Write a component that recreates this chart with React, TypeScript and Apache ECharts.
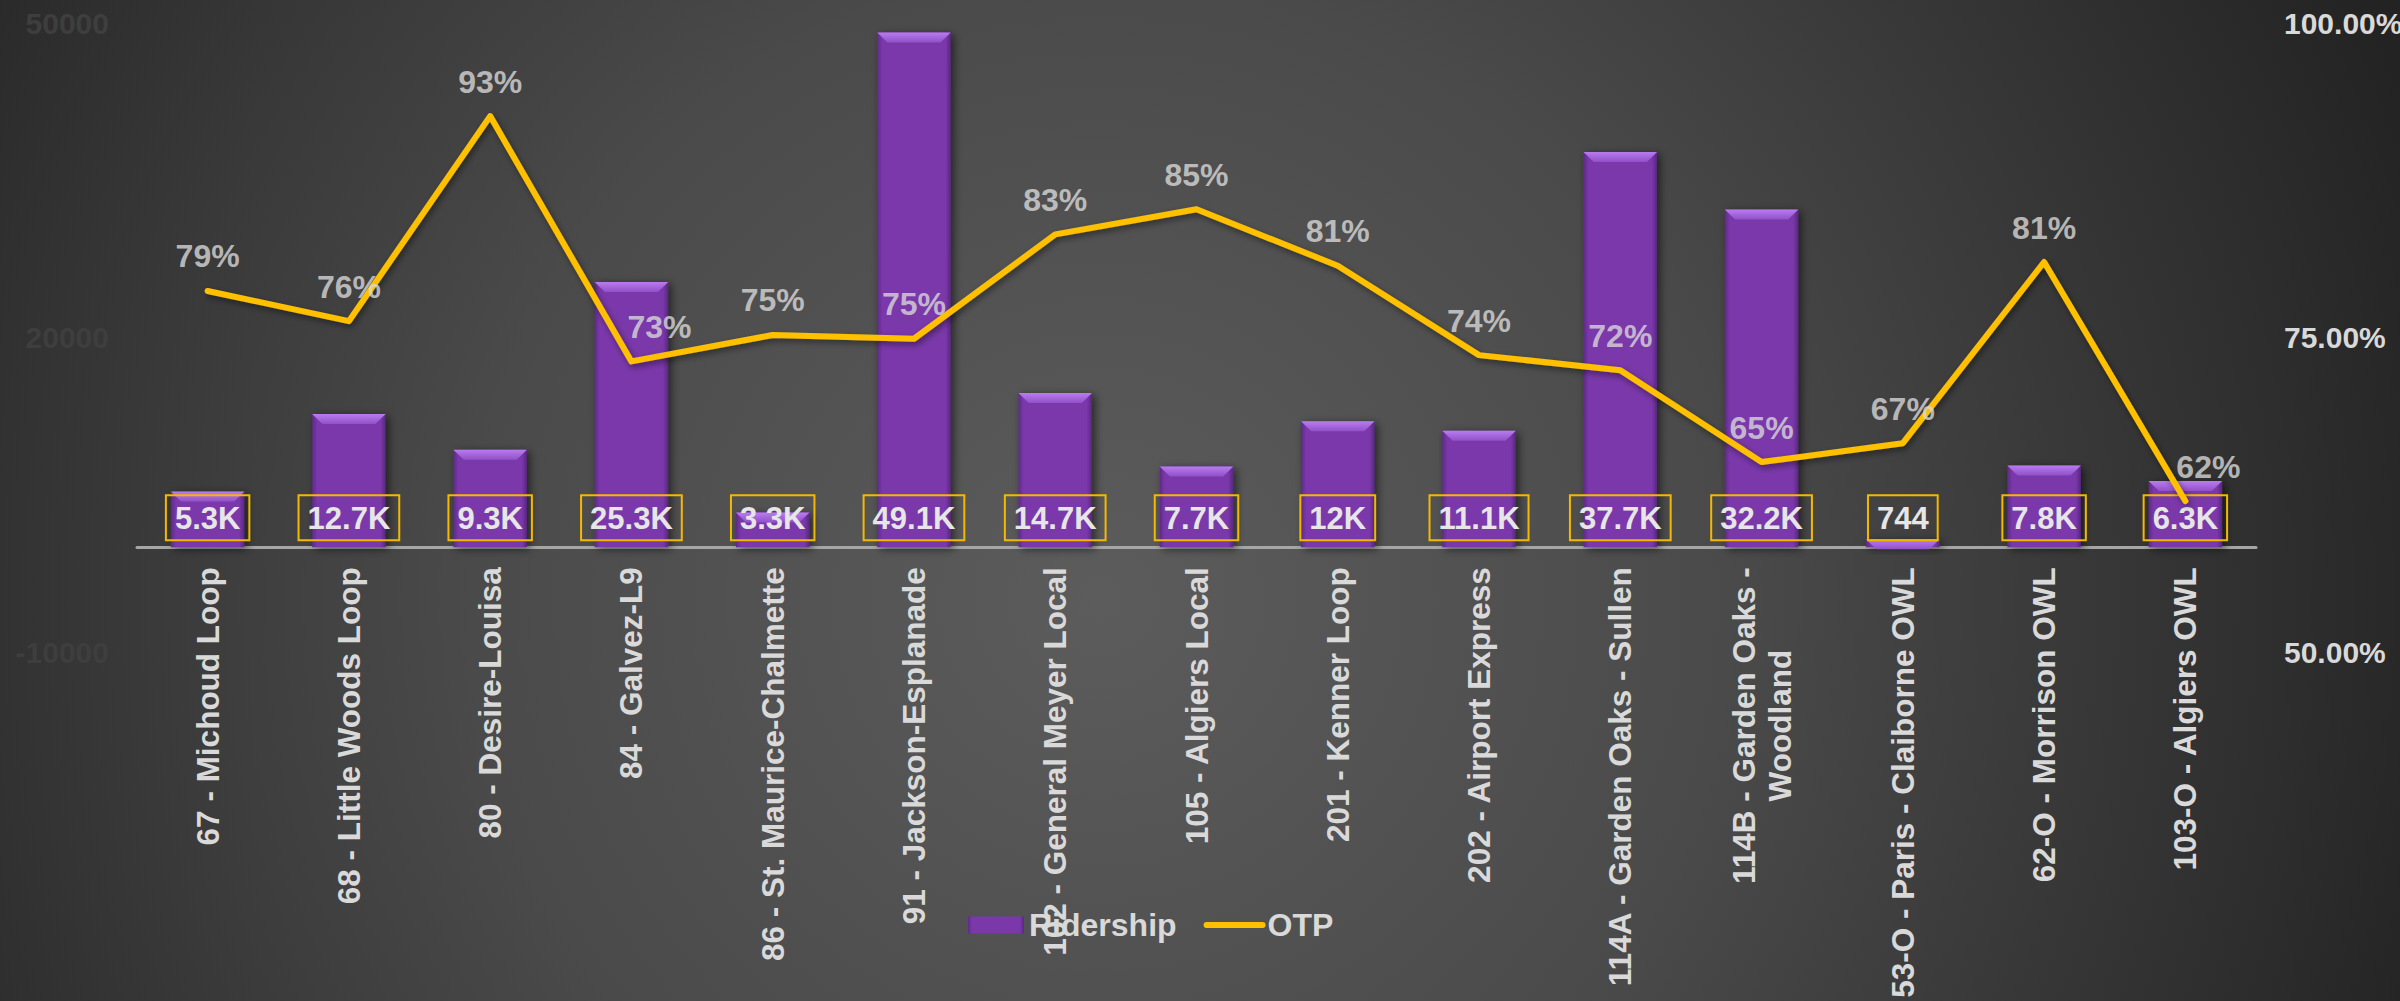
import React, { useEffect, useRef } from "react";
import * as echarts from "echarts";

const categories = [
  "67 - Michoud Loop",
  "68 - Little Woods Loop",
  "80 - Desire-Louisa",
  "84 - Galvez-L9",
  "86 - St. Maurice-Chalmette",
  "91 - Jackson-Esplanade",
  "102 - General Meyer Local",
  "105 - Algiers Local",
  "201 - Kenner Loop",
  "202 - Airport Express",
  "114A - Garden Oaks - Sullen",
  "114B - Garden Oaks - Woodland",
  "53-O - Paris - Claiborne OWL",
  "62-O - Morrison OWL",
  "103-O - Algiers OWL",
];
const ridership = [5300, 12700, 9300, 25300, 3300, 49100, 14700, 7700, 12000, 11100, 37700, 32200, 744, 7800, 6300];
const otp = [0.787, 0.763, 0.926, 0.731, 0.752, 0.749, 0.832, 0.852, 0.807, 0.736, 0.724, 0.651, 0.666, 0.81, 0.62];
const leftTicks = { min: -10000, max: 50000, interval: 30000 };
const rightTicks = { min: 0.5, max: 1, interval: 0.25 };
const wrappedLabels = new Set(["114B - Garden Oaks - Woodland"]);
const otpLabelShift: Record<number, number> = { 3: 28, 14: 23 };

const FONT = '"Liberation Sans", Arial, Helvetica, sans-serif';
const LABEL_COLOR = "#d9d9d9";
const GRID_TOP = 23;
const GRID_H = 629;

function fmtK(v: number) {
  return v >= 1000 ? Math.round(v / 100) / 10 + "K" : String(v);
}

export default function App() {
  const ref = useRef<HTMLDivElement>(null);
  useEffect(() => {
    document.body.style.margin = "0";
    document.body.style.overflow = "hidden";
    const chart = echarts.init(ref.current!, undefined, { renderer: "svg" });

    const ctx = document.createElement("canvas").getContext("2d")!;
    ctx.font = `bold 31.5px "Liberation Sans"`;
    const wrapLines = (v: string) => {
      const i = v.lastIndexOf(" ");
      return [v.slice(0, i), v.slice(i + 1)];
    };
    let wrapWidth = 0;
    wrappedLabels.forEach((v) => {
      wrapLines(v).forEach((l) => {
        wrapWidth = Math.max(wrapWidth, ctx.measureText(l).width);
      });
    });

    // distance from grid bottom up to the zero line of the left axis
    const zeroOffset = (GRID_H * (0 - leftTicks.min)) / (leftTicks.max - leftTicks.min);

    const bg = new echarts.graphic.RadialGradient(
      1100,
      600,
      1400,
      [
        { offset: 0, color: "#5c5c5c" },
        { offset: 0.45, color: "#4a4a4a" },
        { offset: 1, color: "#232323" },
      ],
      true
    );

    const labelData = otp.map((v, i) =>
      otpLabelShift[i] !== undefined
        ? {
            value: v,
            label: { offset: [otpLabelShift[i], 0] },
          }
        : v
    );

    chart.setOption({
      animation: false,
      graphic: [
        {
          type: "rect",
          left: 0,
          top: 0,
          z: -10,
          silent: true,
          shape: { x: 0, y: 0, width: 2400, height: 1001 },
          style: { fill: bg },
        },
      ],
      grid: {
        left: 137,
        right: 144,
        top: GRID_TOP,
        height: GRID_H,
        containLabel: false,
        outerBoundsMode: "none",
      },
      legend: {
        left: 963,
        top: 902,
        itemWidth: 56,
        itemHeight: 17,
        itemGap: 27,
        textStyle: { color: LABEL_COLOR, fontSize: 32, fontWeight: "bold", fontFamily: FONT, lineHeight: 36 },
        lineStyle: { width: 6, cap: "round" },
        data: [
          { name: "Ridership", icon: "rect" },
          { name: "OTP", itemStyle: { opacity: 0 } },
        ],
      },
      xAxis: {
        type: "category",
        data: categories,
        offset: -zeroOffset,
        axisTick: { show: false },
        axisLine: { show: true, onZero: false, lineStyle: { color: "#a6a6a6", width: 3 } },
        splitLine: { show: false },
        axisLabel: {
          interval: 0,
          rotate: 90,
          margin: 20,
          color: LABEL_COLOR,
          fontSize: 31.5,
          fontWeight: "bold",
          fontFamily: FONT,
          lineHeight: 36,
          formatter: (v: string) =>
            wrappedLabels.has(v) ? wrapLines(v).map((l) => `{w|${l}}`).join("\n") : v,
          rich: {
            w: {
              width: wrapWidth,
              align: "center",
              color: LABEL_COLOR,
              fontSize: 31.5,
              fontWeight: "bold",
              fontFamily: FONT,
              lineHeight: 36,
            },
          },
        },
      },
      yAxis: [
        {
          type: "value",
          ...leftTicks,
          splitLine: { show: false },
          axisLine: { show: false },
          axisTick: { show: false },
          axisLabel: {
            color: "#3e3e3e",
            fontSize: 30,
            fontWeight: "bold",
            fontFamily: FONT,
            margin: 28,
            formatter: (v: number) => String(v),
          },
        },
        {
          type: "value",
          position: "right",
          ...rightTicks,
          splitLine: { show: false },
          axisLine: { show: false },
          axisTick: { show: false },
          axisLabel: {
            color: LABEL_COLOR,
            fontSize: 30,
            fontWeight: "bold",
            fontFamily: FONT,
            margin: 28,
            formatter: (v: number) => (v * 100).toFixed(2) + "%",
          },
        },
      ],
      series: [
        {
          name: "Ridership",
          type: "bar",
          yAxisIndex: 0,
          data: ridership,
          barWidth: "52%",
          z: 2,
          itemStyle: {
            color: new echarts.graphic.LinearGradient(0, 0, 1, 0, [
              { offset: 0, color: "#5e2a8a" },
              { offset: 0.07, color: "#7a38aa" },
              { offset: 0.93, color: "#7a38aa" },
              { offset: 1, color: "#58277f" },
            ]),
            shadowBlur: 8,
            shadowColor: "rgba(0,0,0,0.55)",
            shadowOffsetX: 3,
            shadowOffsetY: 2,
          },
        },
        {
          name: "bevel",
          type: "pictorialBar",
          yAxisIndex: 0,
          data: ridership,
          barWidth: "52%",
          symbol: "path://M0,0 L100,0 L86,10 L14,10 Z",
          symbolSize: ["100%", 10],
          symbolPosition: "end",
          silent: true,
          z: 3,
          itemStyle: {
            color: new echarts.graphic.LinearGradient(0, 0, 0, 1, [
              { offset: 0, color: "#b97cf0" },
              { offset: 1, color: "#9150c8" },
            ]),
          },
          label: {
            show: true,
            position: "insideBottom",
            distance: 7,
            formatter: (p: any) => fmtK(p.value),
            color: "#e6e6e6",
            fontSize: 31,
            fontWeight: "bold",
            fontFamily: FONT,
            lineHeight: 32,
            padding: [7, 9, 6, 9],
            borderColor: "#f5b800",
            borderWidth: 2,
            textBorderWidth: 0,
          },
        },
        {
          name: "OTP",
          type: "line",
          yAxisIndex: 1,
          data: otp,
          symbol: "none",
          z: 5,
          itemStyle: { color: "#ffc000" },
          lineStyle: {
            color: "#ffc000",
            width: 6,
            join: "round",
            cap: "round",
            shadowBlur: 6,
            shadowColor: "rgba(0,0,0,0.45)",
            shadowOffsetX: 2,
            shadowOffsetY: 3,
          },
        },
        {
          name: "OTP labels",
          type: "scatter",
          yAxisIndex: 1,
          data: labelData,
          symbol: "circle",
          symbolSize: 1,
          silent: true,
          z: 6,
          itemStyle: { color: "rgba(0,0,0,0)" },
          label: {
            show: true,
            position: "top",
            distance: 18,
            formatter: (p: any) => Math.round(p.value * 100) + "%",
            color: LABEL_COLOR,
            fontSize: 32,
            fontWeight: "bold",
            fontFamily: FONT,
          },
        },
      ],
    });
    return () => chart.dispose();
  }, []);
  return <div ref={ref} style={{ width: 2400, height: 1001 }} />;
}
